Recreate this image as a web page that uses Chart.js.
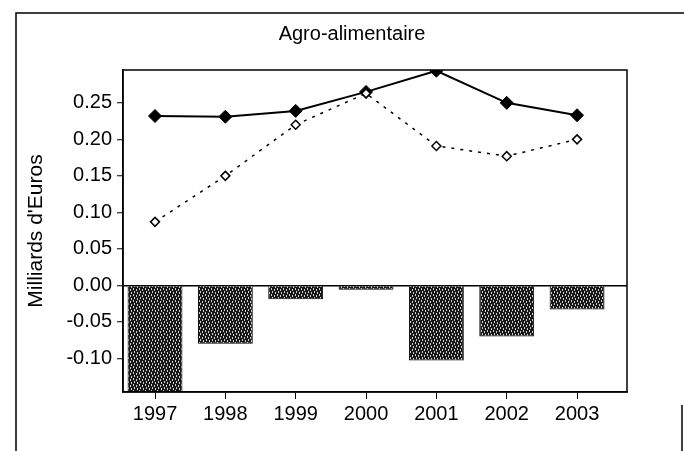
<!DOCTYPE html>
<html>
<head>
<meta charset="utf-8">
<script src="https://cdn.jsdelivr.net/npm/chart.js@4/dist/chart.umd.min.js"></script>
<style>
  html, body { margin: 0; padding: 0; background: #fff; }
  #wrap { width: 684px; height: 451px; position: relative; }
</style>
</head>
<body>
<div id="wrap"><canvas id="chart-agro"></canvas></div>
<script>
// values (Milliards d'Euros)
const years = [1997, 1998, 1999, 2000, 2001, 2002, 2003];
const solde = [-0.146, -0.080, -0.019, -0.006, -0.103, -0.070, -0.033];
const serieA = [0.232, 0.231, 0.239, 0.265, 0.294, 0.250, 0.233];   // solid line
const serieB = [0.087, 0.150, 0.220, 0.263, 0.191, 0.177, 0.200];   // dotted line
const yTicks = [-0.10, -0.05, 0.00, 0.05, 0.10, 0.15, 0.20, 0.25];

const toPoints = arr => years.map((yr, i) => ({ x: yr, y: arr[i] }));

// dark stippled fill like the scanned bars
function stipple() {
    const c = document.createElement("canvas");
    c.width = 6; c.height = 6;
    const g = c.getContext("2d");
    g.fillStyle = "#181818";
    g.fillRect(0, 0, 6, 6);
    g.fillStyle = "#cfcfcf";
    [[1, 0], [4, 1], [2, 3], [5, 4]].forEach(([x, y]) => g.fillRect(x, y, 1, 2));
    return g.createPattern(c, "repeat");
}

// plot box + the outer page frame of the scan
const framePlugin = {
    id: "frame",
    afterDraw(chart) {
        const { ctx, chartArea: a } = chart;
        ctx.save();
        ctx.strokeStyle = "#000";
        ctx.lineWidth = 1.5;
        ctx.strokeRect(a.left, a.top, a.right - a.left, a.bottom - a.top);
        ctx.beginPath();
        ctx.moveTo(16, 451); ctx.lineTo(16, 13); ctx.lineTo(684, 13);
        ctx.moveTo(682, 405); ctx.lineTo(682, 451);
        ctx.stroke();
        ctx.restore();
    }
};

const font = "'Liberation Sans', Arial, sans-serif";

new Chart(document.getElementById("chart-agro"), {
    type: "bar",
    data: {
        datasets: [
            {
                type: "line",
                label: "Série B",
                data: toPoints(serieB),
                borderColor: "#000",
                borderWidth: 1.5,
                borderDash: [3, 6],
                pointStyle: "rectRot",
                pointRadius: 4.5,
                pointBackgroundColor: "#fff",
                pointBorderColor: "#000",
                pointBorderWidth: 1.5,
                order: 0
            },
            {
                type: "line",
                label: "Série A",
                data: toPoints(serieA),
                borderColor: "#000",
                borderWidth: 2,
                pointStyle: "rectRot",
                pointRadius: 6.5,
                pointBackgroundColor: "#000",
                pointBorderColor: "#000",
                pointBorderWidth: 1,
                order: 1
            },
            {
                label: "Solde",
                data: toPoints(solde),
                backgroundColor: stipple(),
                borderColor: "#000",
                borderWidth: 1,
                barPercentage: 1,
                categoryPercentage: 0.78,
                order: 2
            }
        ]
    },
    options: {
        responsive: true,
        maintainAspectRatio: false,
        animation: false,
        layout: { padding: { left: 20, right: 0, top: 0, bottom: 0 } },
        plugins: {
            legend: { display: false },
            tooltip: { enabled: false },
            title: {
                display: true,
                text: "Agro-alimentaire",
                color: "#000",
                font: { family: font, size: 20, weight: "normal" },
                padding: { top: 22, bottom: 24 }
            }
        },
        scales: {
            x: {
                type: "linear",
                offset: false,
                min: 1996.545,
                max: 2003.71,
                grid: { display: true, offset: false, drawOnChartArea: false, drawTicks: true, tickLength: 7, color: "#000" },
                border: { display: true, color: "#000", width: 1.5 },
                ticks: {
                    stepSize: 1,
                    includeBounds: false,
                    padding: 3,
                    color: "#000",
                    font: { family: font, size: 20 },
                    callback: v => String(v)
                },
                afterFit: s => { s.height = 59; }
            },
            y: {
                min: -0.146,
                max: 0.295,
                grid: {
                    display: true,
                    drawOnChartArea: true,
                    drawTicks: true,
                    tickLength: 6,
                    lineWidth: 1.5,
                    tickWidth: 1,
                    tickColor: "#000",
                    // only the zero line crosses the plot
                    color: c => (c.tick && c.tick.value === 0 ? "#000" : "rgba(0,0,0,0)")
                },
                border: { display: true, color: "#000", width: 1.5 },
                afterBuildTicks: s => { s.ticks = yTicks.map(v => ({ value: v })); },
                ticks: {
                    padding: 5,
                    color: "#000",
                    font: { family: font, size: 20 },
                    callback: v => v.toFixed(2)
                },
                title: {
                    display: true,
                    text: "Milliards d'Euros",
                    color: "#000",
                    font: { family: font, size: 21 },
                    padding: { top: 4, bottom: 0 }
                },
                afterFit: s => { s.width = 103; }
            },
            yRight: {
                position: "right",
                display: true,
                grid: { display: false },
                border: { display: false },
                ticks: { display: false },
                afterFit: s => { s.width = 57; }
            }
        }
    },
    plugins: [framePlugin]
});
</script>
</body>
</html>
